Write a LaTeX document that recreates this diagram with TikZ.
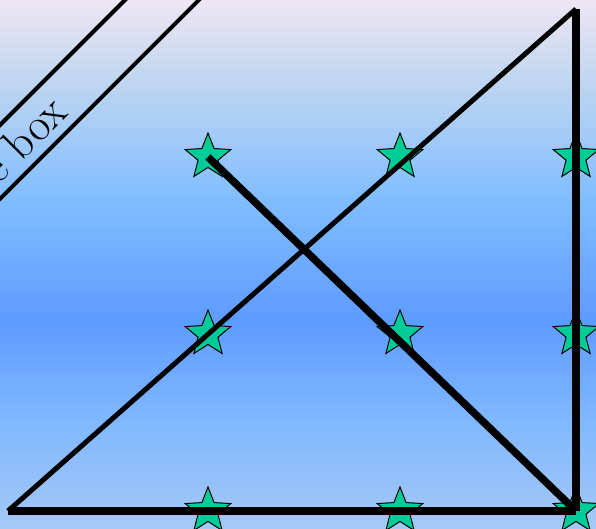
\documentclass[tikz,border=0pt]{standalone}
\usepackage{fontspec}
\usetikzlibrary{shapes.geometric}
\definecolor{bgA}{HTML}{A5C8F5}
\definecolor{bgB}{HTML}{80B8FF}
\definecolor{bgC}{HTML}{5E9BFF}
\definecolor{bgD}{HTML}{80BDFF}
\definecolor{bgE}{HTML}{C0D6F0}
\definecolor{bgF}{HTML}{EEE6F4}
\definecolor{starc}{HTML}{00CC99}
\pgfdeclareverticalshading{bgshade}{100bp}{color(0bp)=(bgA); color(25bp)=(bgA); color(35.3bp)=(bgB); color(44.75bp)=(bgC); color(56.1bp)=(bgD); color(67.45bp)=(bgE); color(75bp)=(bgF); color(100bp)=(bgF)}
\tikzset{
  starnode/.style={star, star points=5, star point ratio=2.3, minimum size=48pt, inner sep=0pt, draw=black, line width=1pt, fill=starc},
  thinline/.style={line width=5pt, draw=black},
  thickline/.style={line width=7.5pt, draw=black},
  boxlabel/.style={draw=black, line width=4pt, rotate=45, inner xsep=200pt, inner ysep=9.8pt, font=\fontsize{46}{54}\selectfont}
}
\begin{document}
\begin{tikzpicture}[x=1pt,y=-1pt]
\useasboundingbox (0,0) rectangle (596,529);
\clip (0,0) rectangle (596,529);
\shade[shading=bgshade] (0,0) rectangle (596,529);
\node[boxlabel, anchor=base east] (lbl) at (212,-28) {Rotate the box};
\node[starnode] (s11) at (208,157) {};
\node[starnode] (s12) at (400,157) {};
\node[starnode] (s13) at (576,157) {};
\node[starnode] (s21) at (208,334) {};
\node[starnode] (s22) at (400,334) {};
\node[starnode] (s23) at (576,334) {};
\node[starnode] (s31) at (208,511) {};
\node[starnode] (s32) at (400,511) {};
\node[starnode] (s33) at (576,511) {};
\coordinate (bl) at (8,511);
\coordinate (tr) at (576,9);
\draw[thinline] (bl) -- (tr);
\draw[thickline] (tr) -- (s33.center);
\draw[thickline] (bl) -- (s33.center);
\draw[thickline] (s11.center) -- (s33.center);
\end{tikzpicture}
\end{document}
